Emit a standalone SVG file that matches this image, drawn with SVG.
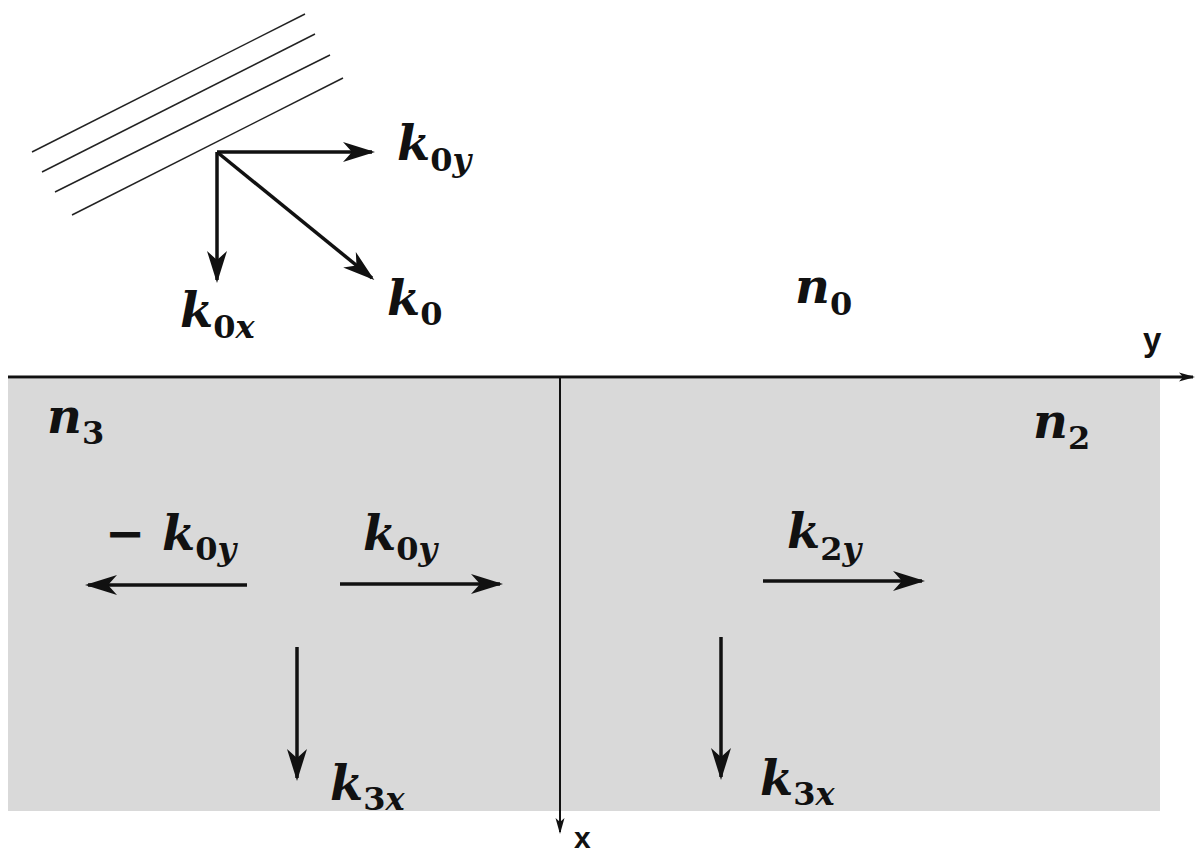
<svg xmlns="http://www.w3.org/2000/svg" width="1198" height="857" viewBox="0 0 1198 857">
<style>
.m{font-family:"DejaVu Serif","Liberation Serif",serif;font-weight:bold;font-style:italic;font-size:48px;fill:#111}
.s{font-size:32px}
.u{font-style:normal}
.ax{font-family:"Liberation Sans",Arial,sans-serif;font-weight:bold;font-size:33px;fill:#111}
.v{stroke:#111;stroke-width:3.5;fill:none}
.w{stroke:#222;stroke-width:1.5;fill:none}
</style>
<defs>
<marker id="ah" viewBox="0 0 32 22" refX="29" refY="11" markerWidth="32" markerHeight="22" markerUnits="userSpaceOnUse" orient="auto">
<path d="M0,1 L32,11 L0,21 L9,11 z" fill="#111"/>
</marker>
<marker id="as" viewBox="0 0 16 10" refX="14" refY="5" markerWidth="16" markerHeight="10" markerUnits="userSpaceOnUse" orient="auto">
<path d="M0,0.5 L16,5 L0,9.5 L4,5 z" fill="#111"/>
</marker>
</defs>
<rect width="1198" height="857" fill="#fff"/>
<g id="medium">
<rect x="8" y="379" width="1152" height="432" fill="#d9d9d9"/>
</g>
<g id="wavefront">
<line class="w" x1="32" y1="152" x2="305" y2="14"/>
<line class="w" x1="42" y1="172" x2="315" y2="34"/>
<line class="w" x1="55" y1="192" x2="330" y2="55"/>
<line class="w" x1="72" y1="215" x2="343" y2="78"/>
</g>
<g id="connectors">
<line x1="8" y1="377" x2="1193" y2="377" stroke="#111" stroke-width="3" marker-end="url(#as)"/>
<line x1="560" y1="377" x2="560" y2="832" stroke="#111" stroke-width="2" marker-end="url(#as)"/>
<line class="v" x1="217" y1="152" x2="372" y2="152" marker-end="url(#ah)"/>
<line class="v" x1="217" y1="152" x2="217" y2="280" marker-end="url(#ah)"/>
<line class="v" x1="217" y1="152" x2="372" y2="278" marker-end="url(#ah)"/>
<line class="v" x1="247" y1="585" x2="88" y2="585" marker-end="url(#ah)"/>
<line class="v" x1="340" y1="584" x2="500" y2="584" marker-end="url(#ah)"/>
<line class="v" x1="763" y1="581" x2="922" y2="581" marker-end="url(#ah)"/>
<line class="v" x1="297" y1="647" x2="297" y2="778" stroke-width="3" marker-end="url(#ah)"/>
<line class="v" x1="721" y1="637" x2="721" y2="777" stroke-width="3" marker-end="url(#ah)"/>
</g>
<g id="labels">
<text class="m" x="397" y="160">k<tspan class="s u" dy="11">0</tspan><tspan class="s">y</tspan></text>
<text class="m" x="180" y="327">k<tspan class="s u" dy="11">0</tspan><tspan class="s">x</tspan></text>
<text class="m" x="387" y="315">k<tspan class="s u" dy="10">0</tspan></text>
<text class="m" x="795" y="303">n<tspan class="s u" dy="12">0</tspan></text>
<text class="m" x="47" y="433">n<tspan class="s u" dy="11">3</tspan></text>
<text class="m" x="1033" y="438">n<tspan class="s u" dy="11">2</tspan></text>
<text class="m" x="105" y="550"><tspan class="u">−</tspan> k<tspan class="s u" dy="10">0</tspan><tspan class="s">y</tspan></text>
<text class="m" x="363" y="550">k<tspan class="s u" dy="10">0</tspan><tspan class="s">y</tspan></text>
<text class="m" x="787" y="548">k<tspan class="s u" dy="12">2</tspan><tspan class="s">y</tspan></text>
<text class="m" x="330" y="800">k<tspan class="s u" dy="10">3</tspan><tspan class="s">x</tspan></text>
<text class="m" x="760" y="795">k<tspan class="s u" dy="10">3</tspan><tspan class="s">x</tspan></text>
<text class="ax" x="1143" y="351">y</text>
<text class="ax" x="574" y="848" style="font-size:30px">x</text>
</g>
</svg>
